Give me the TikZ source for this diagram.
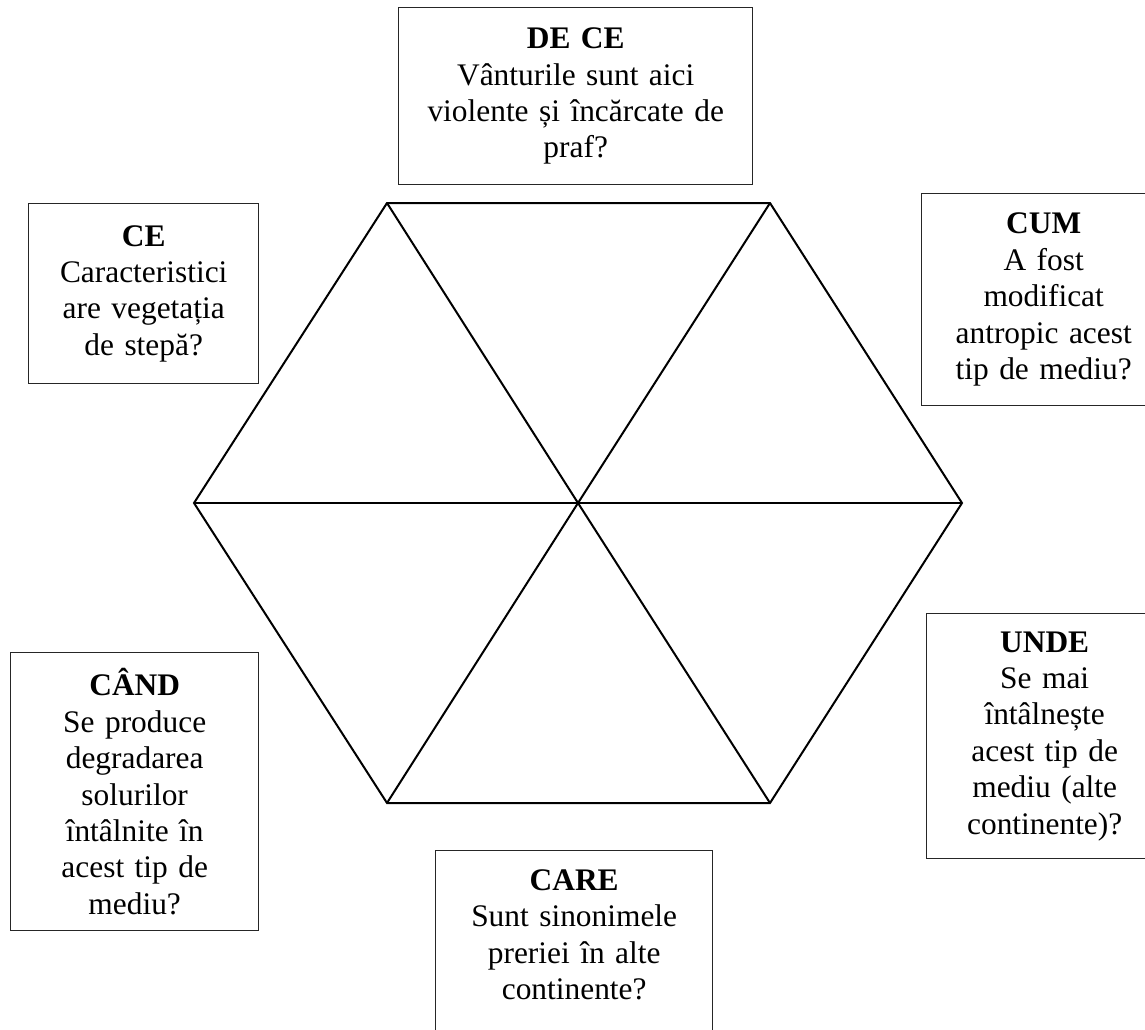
\documentclass[tikz,border=0pt]{standalone}
\usepackage{fontspec}
\setmainfont{Liberation Serif}

\begin{document}
\begin{tikzpicture}[
    x=0.5pt, y=-0.5pt,
    hexLine/.style={line width=1pt, line join=miter},
    questionBox/.style={draw=black!85, line width=0.7pt, anchor=north west, inner sep=0pt,
        align=center, font=\fontsize{15.7pt}{18.2pt}\selectfont}
]
    \useasboundingbox (0,0) rectangle (1145,1029);

    % --- HEXAGON ---
    \coordinate (hexC)  at (578,503);
    \coordinate (hexW)  at (194,503);
    \coordinate (hexNW) at (387,203);
    \coordinate (hexNE) at (770,203);
    \coordinate (hexE)  at (962,503);
    \coordinate (hexSE) at (770,803);
    \coordinate (hexSW) at (387,803);

    \draw[hexLine] (hexW) -- (hexNW) -- (hexNE) -- (hexE) -- (hexSE) -- (hexSW) -- cycle;
    % spokes to the centre
    \foreach \v in {hexW, hexNW, hexNE, hexE, hexSE, hexSW}
        \draw[hexLine] (hexC) -- (\v);

    % --- QUESTION BOXES ---
    \node[questionBox, text width=177pt, minimum height=88.5pt] (deCe) at (398,7)
        {\textbf{DE CE}\\ Vânturile sunt aici\\ violente și încărcate de\\ praf?};

    \node[questionBox, text width=115pt, minimum height=90pt] (ce) at (28,203)
        {\textbf{CE}\\ Caracteristici\\ are vegetația\\ de stepă?};

    \node[questionBox, text width=122pt, minimum height=106pt] (cum) at (921,193)
        {\textbf{CUM}\\ A fost\\ modificat\\ antropic acest\\ tip de mediu?};

    \node[questionBox, text width=118pt, minimum height=122.5pt] (unde) at (926,613)
        {\textbf{UNDE}\\ Se mai\\ întâlnește\\ acest tip de\\ mediu (alte\\ continente)?};

    \node[questionBox, text width=124pt, minimum height=139pt] (cand) at (10,652)
        {\textbf{CÂND}\\ Se produce\\ degradarea\\ solurilor\\ întâlnite în\\ acest tip de\\ mediu?};

    % box runs off the bottom edge
    \node[questionBox, text width=138.5pt, inner ysep=9.5pt, text depth=85pt] (care) at (435,850)
        {\textbf{CARE}\\ Sunt sinonimele\\ preriei în alte\\ continente?};

\end{tikzpicture}
\end{document}
